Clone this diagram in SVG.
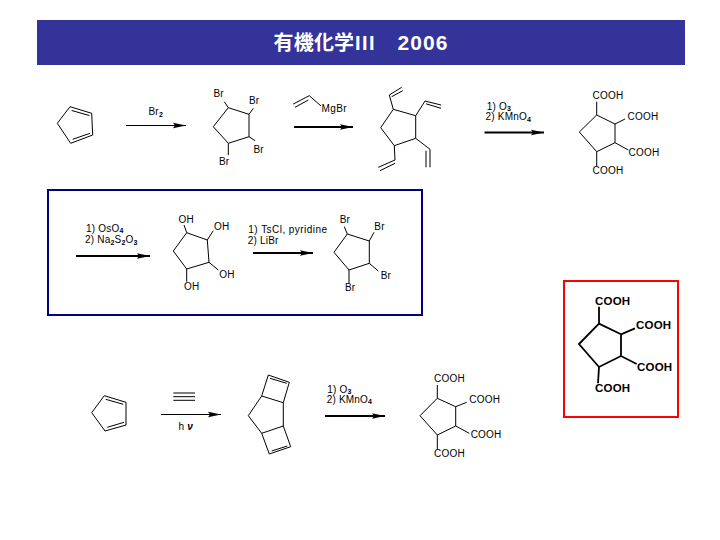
<svg xmlns="http://www.w3.org/2000/svg" width="720" height="540" viewBox="0 0 720 540">
<style>
text{font-family:"Liberation Sans",Arial,sans-serif;font-size:10px;fill:#000;letter-spacing:.2px}
.b{fill:none;stroke:#000;stroke-width:1}
.a{stroke:#000;stroke-width:1.2;fill:none;marker-end:url(#h)}
.t{stroke-width:2}
.s{font-size:7px;font-weight:bold}
.title{font-family:"Liberation Sans","Noto Sans CJK JP",sans-serif;font-size:20px;font-weight:bold;fill:#fff}
.bold{font-size:11.5px;font-weight:bold}
.bb{fill:none;stroke:#000;stroke-width:1.8}
</style>
<defs>
<marker id="h" markerUnits="userSpaceOnUse" markerWidth="14" markerHeight="8" refX="13" refY="4" orient="auto"><path d="M0,1.2L13,4L0,6.8L2,4Z" fill="#000"/></marker>
</defs>
<rect width="720" height="540" fill="#fff"/>
<g id="title"><rect x="37" y="20" width="648" height="45" fill="#333399"/>
<text class="title" x="273.5" y="50">有機化学<tspan x="355" style="letter-spacing:1.5px">III</tspan><tspan x="397.5" style="font-size:21px;letter-spacing:1.1px">2006</tspan></text></g>
<g id="box-blue"><rect x="48" y="190" width="374" height="125" fill="none" stroke="#000080" stroke-width="2"/></g>
<g id="box-red"><rect x="564" y="281" width="114" height="136" fill="none" stroke="#f00" stroke-width="2"/></g>

<g id="connectors">
<path class="a" d="M126,125.5H186"/>
<path class="a t" d="M294,127H353"/>
<path class="a t" d="M484.5,132.5H544"/>
<path class="a t" d="M76,256H150"/>
<path class="a t" d="M253,253H313"/>
<path class="a" d="M161,414.5H221"/>
<path class="a t" d="M325,416H385"/>
</g>

<g id="cyclopentadiene-1"><path class="b" d="M57.3,123.3L70,106.7L91.7,113.3L92.7,135L70.7,143.3ZM71.7,110.5L89.3,115.5M72.7,139.3L90,133.3"/></g>
<g id="reagent-br2"><text x="148.5" y="115">Br<tspan class="s" dy="1.5">2</tspan></text></g>
<g id="tetrabromide-1"><path class="b" d="M213.3,126.7L228.3,107.7L249,114.3V136.7L228.3,143.3ZM228.3,107.7L224.3,101.7M249,114.3L253.3,108.3M249,136.7L255,140.7M228.3,143.3V155"/>
<text x="213.5" y="97">Br</text><text x="249" y="104">Br</text><text x="253.5" y="153">Br</text><text x="219" y="165">Br</text></g>
<g id="reagent-vinyl"><path class="b" d="M293.3,104L309.3,95.7L321,106M295,107.3L308.3,100"/><text x="321.5" y="112.3" style="letter-spacing:.4px">MgBr</text></g>
<g id="tetravinyl"><path class="b" d="M380.7,127.7L393.3,109.3L415.7,115.7V138.3L394.3,145.7ZM393.3,109.3L389.3,95L401.7,87.3M391.7,96.7L402.7,90.7M415.7,115.7L425,101L441,105M426,103.8L441,108.3M415.7,138.3L430,149.3V167.3M426,150.7V167.3M394.3,145.7L395,160L378.3,167.3M395,163.3L380,170.7"/></g>
<g id="reagent-ozone-1"><text x="486.7" y="109.7">1) O<tspan class="s" dy="1.5">3</tspan></text><text x="485.5" y="120">2) KMnO<tspan class="s" dy="1.5">4</tspan></text></g>
<g id="acid-1"><path class="b" d="M579.3,132L596.7,115L615,124V142.7L596.7,151.7ZM596.7,115V101.7M615,124L625,119M615,142.7L628.3,150M596.7,151.7V166"/>
<text x="592.5" y="99">COOH</text><text x="627.5" y="119.8">COOH</text><text x="628.5" y="155.8">COOH</text><text x="592.5" y="174">COOH</text></g>

<g id="reagent-oso4"><text x="86" y="231.5">1) OsO<tspan class="s" dy="1.5">4</tspan></text><text x="85" y="243">2) Na<tspan class="s" dy="1.5">2</tspan><tspan dy="-1.5">S</tspan><tspan class="s" dy="1.5">2</tspan><tspan dy="-1.5">O</tspan><tspan class="s" dy="1.5">3</tspan></text></g>
<g id="tetraol"><path class="b" d="M173.3,251L186.7,232.7L207.3,240L209,262.3L186.7,269ZM186.7,232.7L184,225M207.3,240L213.3,230.7M209,262.3L218.3,270M186.7,269V281.7"/>
<text x="178.5" y="222.7">OH</text><text x="214" y="230">OH</text><text x="219.3" y="278.3">OH</text><text x="184" y="290">OH</text></g>
<g id="reagent-tscl"><text x="248.3" y="233" style="letter-spacing:.45px">1) TsCl, pyridine</text><text x="247.7" y="244.3">2) LiBr</text></g>
<g id="tetrabromide-2"><path class="b" d="M334,252.3L347.3,234L369.3,241V263.3L349,270ZM347.3,234L344.3,226.7M369.3,241L374,232.3M369.3,263.3L378.3,271M349,270V283.3"/>
<text x="339.7" y="223.3">Br</text><text x="374.3" y="230">Br</text><text x="380.7" y="279.3">Br</text><text x="345" y="290.7">Br</text></g>

<g id="acid-highlight"><path class="bb" d="M579,344L599,323.7L621,334.3V356L599,367ZM599,323.7V306.7M621,334.3L635,328.3M621,356L636.7,364M599,367L598,383.3"/>
<text class="bold" x="595" y="305">COOH</text><text class="bold" x="636" y="329">COOH</text><text class="bold" x="637" y="371">COOH</text><text class="bold" x="595" y="391.7">COOH</text></g>

<g id="cyclopentadiene-2"><path class="b" d="M91.7,412.7L104.3,395.7L126,402.3V425L105,431ZM105.7,399.3L123.3,404.3M107.3,427.3L124,422.3"/></g>
<g id="reagent-acetylene"><path class="b" d="M173.3,393H195M173.3,396.7H195M173.3,400.3H195"/></g>
<g id="reagent-hv"><text x="178.5" y="429.5">h <tspan style="font-weight:bold;font-style:italic">ν</tspan></text></g>
<g id="tricyclic"><path class="b" d="M248.3,415.7L261.7,396L283.3,402.7V426L261.7,433.3ZM261.7,396L268.3,375L289.3,382.3L283.3,402.7M270,378.3L286.7,383.3M261.7,433.3L269.3,454L290.7,446.7L283.3,426M271.7,451L287.3,446"/></g>
<g id="reagent-ozone-2"><text x="327.3" y="392.7">1) O<tspan class="s" dy="1.5">3</tspan></text><text x="326.7" y="402.7">2) KMnO<tspan class="s" dy="1.5">4</tspan></text></g>
<g id="acid-2"><path class="b" d="M420,415.7L437.3,398.3L455.7,406.7V426L437.3,435ZM437.3,398.3V385M455.7,406.7L466.7,402.3M455.7,426L469.3,433.3M437.3,435V449"/>
<text x="434" y="382.3">COOH</text><text x="469.3" y="402.7">COOH</text><text x="470.7" y="438.3">COOH</text><text x="434" y="456.7">COOH</text></g>
</svg>
